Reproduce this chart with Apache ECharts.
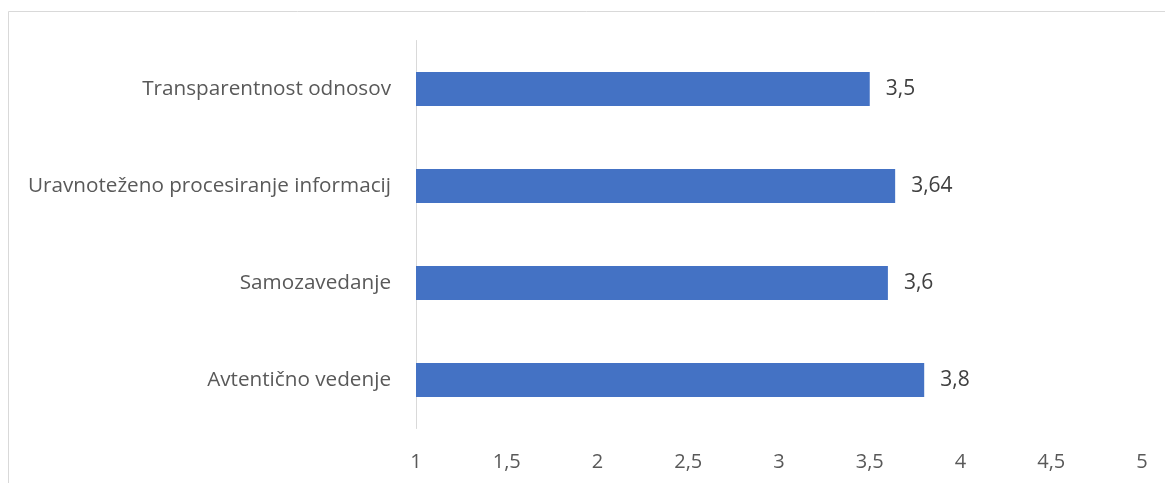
<!DOCTYPE html>
<html>
<head>
<meta charset="utf-8">
<script src="https://cdn.jsdelivr.net/npm/echarts@6/dist/echarts.min.js"></script>
<style>
  html, body { margin: 0; padding: 0; background: #ffffff; }
  #chart { width: 1165px; height: 483px; }
</style>
</head>
<body>
<div id="chart"></div>
<script>
// Categories listed bottom to top (category axis starts at the bottom)
const categories = [
  'Avtentično vedenje',
  'Samozavedanje',
  'Uravnoteženo procesiranje informacij',
  'Transparentnost odnosov'
];
const scores = [3.8, 3.6, 3.64, 3.5];

const axisMin = 1;
const axisMax = 5;
const axisStep = 0.5;

const fmt = v => String(v).replace('.', ',');
const font = '"Open Sans", Lato, sans-serif';

const chart = echarts.init(document.getElementById('chart'), null, { renderer: 'canvas' });
chart.setOption({
  animation: false,
  backgroundColor: '#ffffff',
  graphic: [
    // chart-area frame (top and left edges visible)
    { type: 'line', shape: { x1: 8.5, y1: 11.5, x2: 1165, y2: 11.5 }, style: { stroke: '#d9d9d9', lineWidth: 1 } },
    { type: 'line', shape: { x1: 8.5, y1: 11.5, x2: 8.5, y2: 483 }, style: { stroke: '#d9d9d9', lineWidth: 1 } }
  ],
  grid: { left: 416, right: 23, top: 40.5, bottom: 54.5 },
  xAxis: {
    type: 'value',
    min: axisMin,
    max: axisMax,
    interval: axisStep,
    axisLine: { show: false },
    axisTick: { show: false },
    splitLine: { show: false },
    axisLabel: {
      color: '#595959',
      fontFamily: font,
      fontSize: 20,
      margin: 24,
      formatter: fmt
    }
  },
  yAxis: {
    type: 'category',
    data: categories,
    axisLine: { show: true, lineStyle: { color: '#d9d9d9', width: 1 } },
    axisTick: { show: false },
    axisLabel: {
      color: '#595959',
      fontFamily: font,
      fontSize: 20.7,
      margin: 25
    }
  },
  series: [{
    type: 'bar',
    data: scores,
    barWidth: '35%',
    itemStyle: { color: '#4472c4' },
    label: {
      show: true,
      position: 'right',
      distance: 16,
      color: '#404040',
      fontFamily: font,
      fontSize: 21,
      formatter: p => fmt(p.value)
    }
  }]
});
</script>
</body>
</html>
